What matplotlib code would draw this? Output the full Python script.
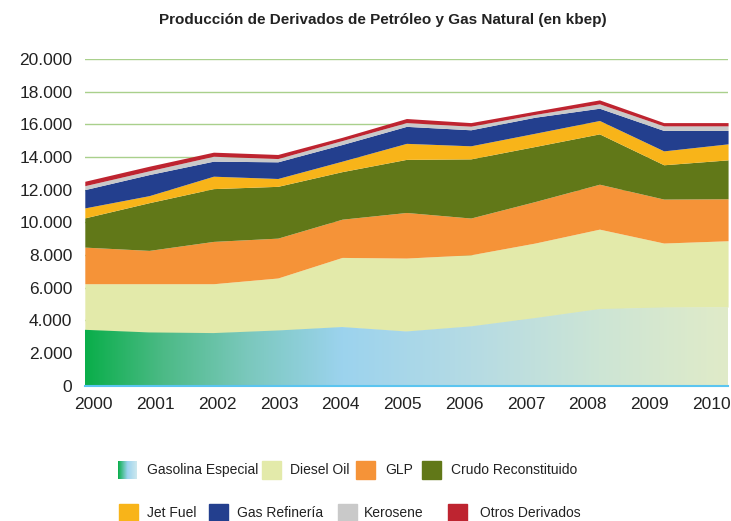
import matplotlib
matplotlib.use('Agg')
import matplotlib.pyplot as plt
import numpy as np
from matplotlib.colors import LinearSegmentedColormap
from matplotlib.patches import Rectangle

plt.rcParams['font.family'] = ['Liberation Sans', 'DejaVu Sans']

# datos (kbep)
anios = [2000, 2001, 2002, 2003, 2004, 2005, 2006, 2007, 2008, 2009, 2010]
gasolina = [3420, 3260, 3220, 3380, 3590, 3320, 3630, 4140, 4690, 4790, 4810]
diesel = [2820, 2980, 3020, 3210, 4260, 4490, 4380, 4590, 4890, 3940, 4060]
glp = [2240, 2040, 2590, 2440, 2340, 2790, 2250, 2540, 2750, 2690, 2570]
crudo = [1790, 2920, 3230, 3170, 2910, 3250, 3620, 3370, 3080, 2100, 2380]
jet_fuel = [610, 430, 760, 480, 640, 980, 800, 810, 820, 850, 980]
gas_refineria = [1120, 1290, 920, 1020, 1020, 1040, 980, 980, 750, 1250, 820]
kerosene = [240, 230, 300, 200, 240, 230, 220, 170, 270, 280, 280]
otros = [270, 280, 250, 250, 200, 250, 220, 200, 240, 200, 200]

nombres = ['Gasolina Especial', 'Diesel Oil', 'GLP', 'Crudo Reconstituido',
           'Jet Fuel', 'Gas Refinería', 'Kerosene', 'Otros Derivados']
series = [gasolina, diesel, glp, crudo, jet_fuel, gas_refineria, kerosene, otros]
colores = ['#9dd3ef', '#e3eaaa', '#f59338', '#617818', '#f8b419', '#233f8e', '#c9c9c9', '#be2430']

# degradado de la gasolina
degradado = LinearSegmentedColormap.from_list('gas', [
    (0.0, '#0aae4a'), (0.12, '#4cba86'), (0.25, '#7ac8bc'), (0.4, '#9cd3ee'),
    (0.6, '#b5dbe4'), (0.8, '#cde5d5'), (1.0, '#e0ebc8')])

fig = plt.figure(figsize=(7.31, 5.21), dpi=100)
ax = fig.add_axes([0.116, 0.2597, 0.880, 0.6273])

x = np.array(anios)
base = np.zeros(len(x))
for i, (serie, color) in enumerate(zip(series, colores)):
    tope = base + np.array(serie)
    poly = ax.fill_between(x, base, tope, color=color, linewidth=0, zorder=2)
    if i == 0:
        img = ax.imshow(np.linspace(0, 1, 256).reshape(1, -1), cmap=degradado, aspect='auto',
                        extent=[x[0], x[-1], 0, 20000], zorder=2.5)
        img.set_clip_path(poly.get_paths()[0], transform=ax.transData)
        poly.set_alpha(0)
    base = tope

ax.set_xlim(2000, 2010)
ax.set_ylim(0, 20000)
ax.set_yticks(range(0, 20001, 2000))
ax.set_yticklabels(['0'] + ['{:,}'.format(v).replace(',', '.') for v in range(2000, 20001, 2000)])
# las etiquetas del original van algo corridas respecto a los puntos
ax.set_xticks([2000.14 + 0.96 * i for i in range(len(anios))])
ax.set_xticklabels([str(a) for a in anios], fontsize=12)
ax.grid(axis='y', color='#a9d08c', linewidth=1, zorder=1)
ax.set_axisbelow(True)
for s in ['top', 'right', 'left']:
    ax.spines[s].set_visible(False)
ax.spines['bottom'].set_color('#5bc5f0')
ax.spines['bottom'].set_linewidth(1.5)
ax.spines['bottom'].set_zorder(5)
ax.tick_params(length=0, labelsize=12.5, colors='#222222')
ax.tick_params(axis='x', pad=8)
ax.tick_params(axis='y', pad=9)

fig.text(0.523, 0.962, 'Producción de Derivados de Petróleo y Gas Natural (en kbep)',
         ha='center', va='center', fontsize=11, fontweight='bold', color='#222222')

# leyenda manual
W, H = 731.0, 521.0
leyenda = [(118, 470, 147), (262, 470, 290), (356, 470, 385), (422, 470, 451),
           (119, 513, 147), (209, 513, 237), (338, 513, 364), (448, 513, 480)]
for i, (px, py, tx) in enumerate(leyenda):
    if i == 0:
        lax = fig.add_axes([px / W, 1 - (py + 9) / H, 19 / W, 18 / H])
        lax.imshow(np.linspace(0, 1, 64).reshape(1, -1), cmap=LinearSegmentedColormap.from_list(
            'l', ['#0aae4a', '#9cd3ee', '#cde8ee']), aspect='auto')
        lax.axis('off')
    else:
        fig.patches.append(Rectangle((px / W, 1 - (py + 9) / H), 19 / W, 18 / H,
                                     transform=fig.transFigure, color=colores[i]))
    fig.text(tx / W, 1 - py / H, nombres[i], ha='left', va='center', fontsize=10, color='#222222')

plt.savefig('out.png', dpi=100)
